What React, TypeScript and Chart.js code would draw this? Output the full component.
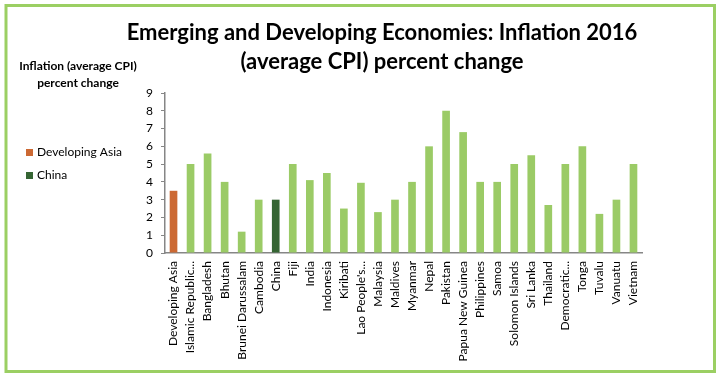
import React, { useEffect, useRef } from "react";
import { Chart, registerables } from "chart.js";

Chart.register(...registerables);

const categories = [
  "Developing Asia",
  "Islamic Republic...",
  "Bangladesh",
  "Bhutan",
  "Brunei Darussalam",
  "Cambodia",
  "China",
  "Fiji",
  "India",
  "Indonesia",
  "Kiribati",
  "Lao People's...",
  "Malaysia",
  "Maldives",
  "Myanmar",
  "Nepal",
  "Pakistan",
  "Papua New Guinea",
  "Philippines",
  "Samoa",
  "Solomon Islands",
  "Sri Lanka",
  "Thailand",
  "Democratic...",
  "Tonga",
  "Tuvalu",
  "Vanuatu",
  "Vietnam",
];

const inflation = [
  3.5, 5.0, 5.6, 4.0, 1.2, 3.0, 3.0, 5.0, 4.1, 4.5, 2.5, 3.95, 2.3, 3.0, 4.0,
  6.0, 8.0, 6.8, 4.0, 4.0, 5.0, 5.5, 2.7, 5.0, 6.0, 2.2, 3.0, 5.0,
];

const yTicks = [0, 1, 2, 3, 4, 5, 6, 7, 8, 9];

const titleLines = [
  "Emerging and Developing Economies: Inflation 2016",
  "(average CPI) percent change",
];
const yTitleLines = ["Inflation (average CPI)", "percent change"];
const legendLabels = ["Developing Asia", "China"];

const ORANGE = "#CC6933";
const DARK_GREEN = "#356533";
const LIGHT_GREEN = "#9BCB66";
const FRAME_GREEN = "#9BCF63";
const AXIS_GRAY = "#868686";
const FONT = "Lato, 'Open Sans', sans-serif";

function colorFor(name: string): string {
  if (name === legendLabels[0]) return ORANGE;
  if (name === legendLabels[1]) return DARK_GREEN;
  return LIGHT_GREEN;
}

const decorPlugin = {
  id: "decor",
  beforeDraw(chart: any) {
    const ctx = chart.ctx;
    ctx.save();
    ctx.fillStyle = "#ffffff";
    ctx.fillRect(0, 0, chart.width, chart.height);
    ctx.restore();
  },
  afterDraw(chart: any) {
    const ctx = chart.ctx;
    ctx.save();
    // frame
    ctx.strokeStyle = FRAME_GREEN;
    ctx.lineWidth = 3;
    ctx.strokeRect(6, 5.5, 708.5, 366);
    // title
    ctx.fillStyle = "#000000";
    ctx.textAlign = "center";
    ctx.textBaseline = "middle";
    ctx.font = `bold 22px ${FONT}`;
    ctx.fillText(titleLines[0], 382, 33);
    ctx.fillText(titleLines[1], 382, 62);
    // y axis title
    ctx.font = `bold 12px ${FONT}`;
    ctx.fillText(yTitleLines[0], 78, 66);
    ctx.fillText(yTitleLines[1], 78, 83);
    // legend
    ctx.textAlign = "left";
    ctx.font = `12px ${FONT}`;
    const legendY = [152.5, 175.5];
    legendLabels.forEach((lab, i) => {
      ctx.fillStyle = colorFor(lab);
      ctx.fillRect(26, legendY[i] - 3.5, 7, 7);
      ctx.fillStyle = "#000000";
      ctx.fillText(lab, 37, legendY[i]);
    });
    ctx.restore();
  },
};

export default function App() {
  const canvasRef = useRef<HTMLCanvasElement | null>(null);

  useEffect(() => {
    document.body.style.margin = "0";
    const canvas = canvasRef.current;
    if (!canvas) return;
    const chart = new Chart(canvas, {
      type: "bar",
      data: {
        labels: categories,
        datasets: [
          {
            label: "Inflation",
            data: inflation,
            backgroundColor: categories.map(colorFor),
            borderWidth: 0,
            categoryPercentage: 1,
            barPercentage: 0.45,
          },
        ],
      },
      options: {
        responsive: false,
        animation: false,
        devicePixelRatio: 1,
        layout: { padding: { left: 130, right: 77, top: 93, bottom: 14 } },
        plugins: {
          legend: { display: false },
          title: { display: false },
          tooltip: { enabled: false },
        },
        scales: {
          x: {
            grid: { display: false, drawTicks: false },
            border: { display: true, color: AXIS_GRAY, width: 1.5 },
            ticks: {
              autoSkip: false,
              minRotation: 90,
              maxRotation: 90,
              padding: 8,
              color: "#000000",
              font: { family: FONT, size: 12 },
            },
            afterFit: (scale: any) => {
              scale.height = 110;
            },
          },
          y: {
            min: 0,
            max: 9,
            afterBuildTicks: (scale: any) => {
              scale.ticks = yTicks.map((v) => ({ value: v }));
            },
            grid: {
              display: true,
              drawOnChartArea: false,
              drawTicks: true,
              tickLength: 4,
              color: AXIS_GRAY,
            },
            border: { display: true, color: AXIS_GRAY, width: 1.5 },
            ticks: {
              padding: 8,
              color: "#000000",
              font: { family: FONT, size: 12 },
            },
            afterFit: (scale: any) => {
              scale.width = 35;
            },
          },
        },
      },
      plugins: [decorPlugin],
    });
    return () => chart.destroy();
  }, []);

  return (
    <div style={{ position: "fixed", left: 0, top: 0, width: 719, height: 377 }}>
      <canvas ref={canvasRef} width={719} height={377} />
    </div>
  );
}
